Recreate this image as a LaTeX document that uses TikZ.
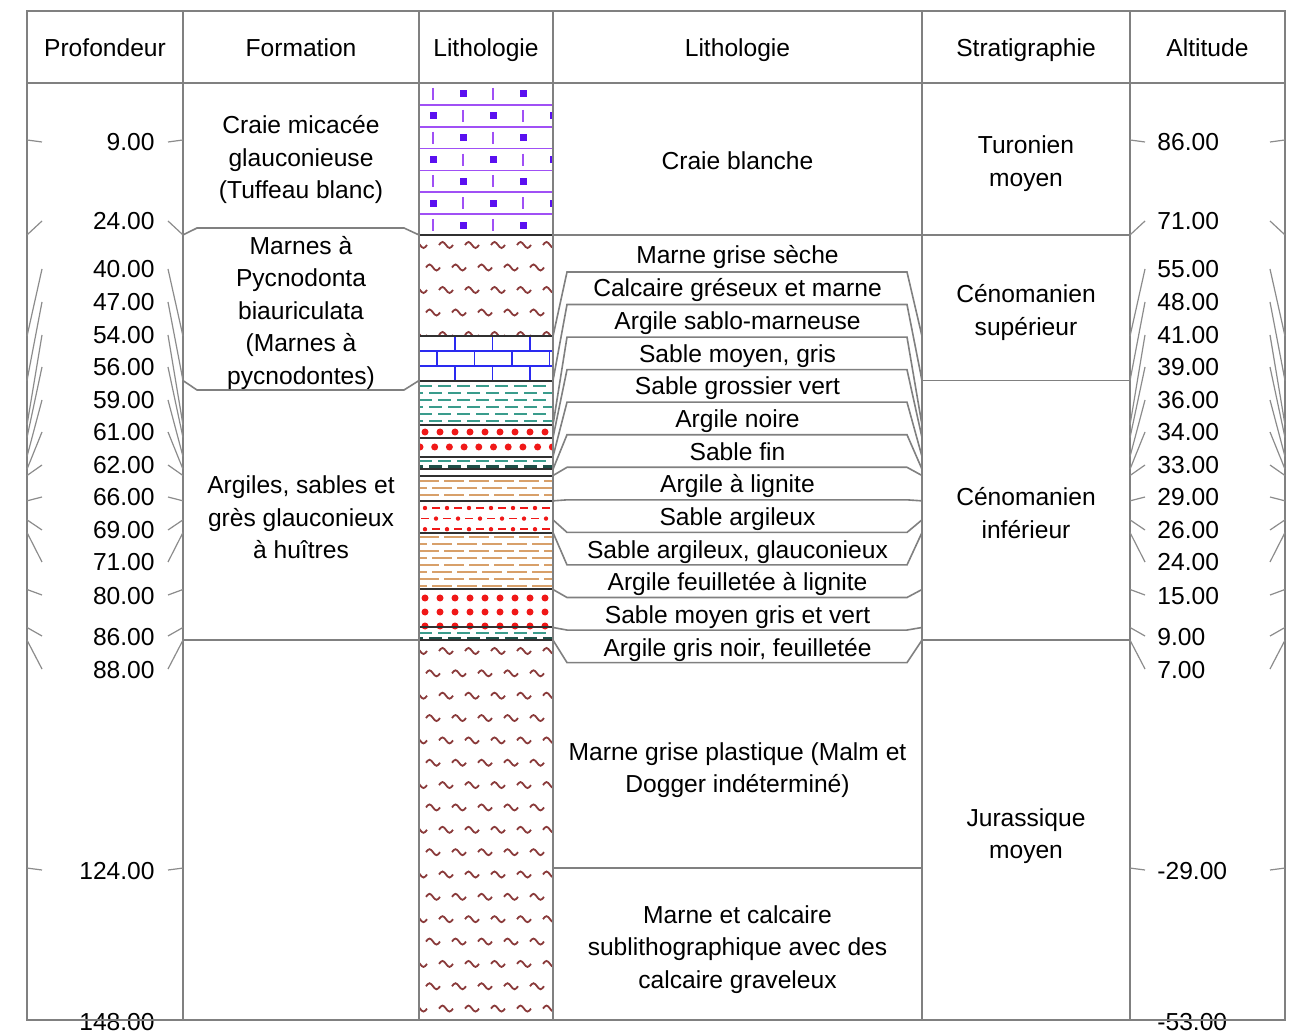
\documentclass[tikz,border=0pt]{standalone}
\usepackage{fontspec}
\setmainfont{Liberation Sans}
\definecolor{rulegray}{HTML}{808080}
\definecolor{leadgray}{HTML}{8C8C8C}
\definecolor{chalkln}{HTML}{A050F5}
\definecolor{chalksq}{HTML}{5A10F0}
\definecolor{marlsq}{HTML}{8A3A3A}
\definecolor{brickblue}{HTML}{2A2AF0}
\definecolor{clayteal}{HTML}{3A9C8C}
\definecolor{claydark}{HTML}{1E5048}
\definecolor{sandred}{HTML}{F01818}
\definecolor{lignitetan}{HTML}{D8A06A}
\definecolor{bedline}{HTML}{303030}

% one marl squiggle centred on (#1,#2)
\newcommand\squig[2]{\draw[squigline] ({#1-7},#2) sin ({#1-3.5},{#2-3}) cos (#1,#2) sin ({#1+3.5},{#2+3}) cos ({#1+7},#2);}
% staggered rows of squiggles: first row y, last row index, row spacing
\newcommand\marlrows[3]{%
  \foreach \mr in {0,...,#2}{%
    \pgfmathsetmacro\mY{#1+#3*\mr}%
    \pgfmathsetmacro\mS{mod(\mr,2)*13}%
    \foreach \mj in {0,...,5}{%
      \pgfmathsetmacro\mX{420+\mS+26*\mj}%
      \squig{\mX}{\mY}%
    }}}

\begin{document}
\begin{tikzpicture}[x=0.5pt,y=-0.5pt,
  declare function={Y(\d)=83+\d*6.33108;},
  lbl/.style={font=\fontsize{12.3}{15}\selectfont,inner sep=0pt,anchor=base},
  frame/.style={draw=rulegray,line width=0.8pt},
  leader/.style={draw=leadgray,line width=0.6pt},
  bed/.style={draw=bedline,line width=1pt},
  squigline/.style={draw=marlsq,line width=0.9pt},
  tealrow/.style={draw=clayteal,line width=1pt,dash pattern=on 6.5pt off 3pt},
  darkrow/.style={draw=claydark,line width=1.2pt,dash pattern=on 6.5pt off 3pt},
  tanrow/.style={draw=lignitetan,line width=1pt,dash pattern=on 10pt off 2.5pt},
]
\useasboundingbox (0,0) rectangle (1290,1031);
\fill[white] (0,0) rectangle (1290,1031);

% ---------------- lithological column ----------------
\begin{scope}
\clip (419,83) rectangle (553,{Y(148)});
% chalk
\begin{scope}
 \clip (419,83) rectangle (553,{Y(24)});
 \foreach \k in {0,...,6}{
   \pgfmathsetmacro\cY{83+(\k+0.5)*21.86}
   \pgfmathsetmacro\cL{83+\k*21.86}
   \pgfmathsetmacro\cS{mod(\k,2)*30}
   \draw[chalkln,line width=0.8pt] (419,\cL) -- (553,\cL);
   \foreach \j in {0,1}{
     \pgfmathsetmacro\cT{433+\cS+60*\j}
     \draw[chalkln,line width=0.8pt] (\cT,{\cY-6}) -- (\cT,{\cY+6});
   }
   \foreach \j in {0,1,2}{
     \pgfmathsetmacro\cQ{463-\cS+60*\j}
     \fill[chalksq] ({\cQ-3.5},{\cY-3.5}) rectangle ++(7,7);
   }
 }
\end{scope}
% marl 24-40
\begin{scope}
 \clip (419,{Y(24)}) rectangle (553,{Y(40)});
 \marlrows{245}{4}{22.5}
\end{scope}
% sandy limestone 40-47
\begin{scope}
 \clip (419,{Y(40)}) rectangle (553,{Y(47)});
 \pgfmathsetmacro\bh{(Y(47)-Y(40))/3}
 \foreach \k in {1,2} \draw[brickblue,line width=0.9pt] (419,{Y(40)+\k*\bh}) -- (553,{Y(40)+\k*\bh});
 \foreach \k in {0,1,2}{
   \pgfmathsetmacro\bo{455-mod(\k,2)*18}
   \foreach \j in {0,...,3}
     \draw[brickblue,line width=0.9pt] ({\bo+37.5*\j},{Y(40)+\k*\bh}) -- ({\bo+37.5*\j},{Y(40)+(\k+1)*\bh});
 }
\end{scope}
% sandy marly clay 47-54
\foreach \yy/\ph in {386/0pt,393/4.5pt,400/0pt,407/4.5pt,414/0pt,421/4.5pt}
  \draw[tealrow,dash phase=\ph] (419,\yy) -- (553,\yy);
% medium sand 54-56
\foreach \j in {0,...,8} \fill[sandred] ({425+15*\j},432) circle (1.75pt);
% coarse sand 56-59
\foreach \j in {0,...,9} \fill[sandred] ({420+14.7*\j},447) circle (1.75pt);
% black clay 59-61
\draw[tealrow] (419,461) -- (553,461);
\draw[darkrow,dash phase=4.5pt] (419,466.5) -- (553,466.5);
% lignite clay 62-66
\foreach \yy/\ph in {481/0pt,488/6pt,495/0pt}
  \draw[tanrow,dash phase=\ph] (419,\yy) -- (553,\yy);
% clayey sand 66-71
\foreach \r in {0,1,2}{
  \pgfmathsetmacro\ry{508+10.6*\r}
  \pgfmathsetmacro\rs{mod(\r,2)*11}
  \foreach \j in {-1,...,6}{
    \pgfmathsetmacro\rx{425+\rs+22*\j}
    \fill[sandred] (\rx,\ry) circle (1.1pt);
    \draw[sandred,line width=0.9pt] ({\rx+7},\ry) -- ({\rx+15},\ry);
  }}
% laminated lignite clay 71-80
\foreach \yy/\ph in {537/0pt,544/6pt,551/0pt,558/6pt,565/0pt,572/6pt,579/0pt,586/6pt}
  \draw[tanrow,dash phase=\ph] (419,\yy) -- (553,\yy);
% grey-green sand 80-86
\foreach \yy in {598,612,626}
  \foreach \j in {0,...,8} \fill[sandred] ({425+15*\j},\yy) circle (1.75pt);
% grey-black clay 86-88
\draw[tealrow] (419,633) -- (553,633);
\draw[darkrow,dash phase=4.5pt] (419,638) -- (553,638);
% plastic marl 88-148
\begin{scope}
 \clip (419,{Y(88)}) rectangle (553,{Y(148)});
 \marlrows{651}{16}{22.35}
\end{scope}
% bed boundaries
\foreach \d in {24,40,47,54,56,59,61,62,66,71,80,86,88}
  \draw[bed] (419,{Y(\d)}) -- (553,{Y(\d)});
\end{scope}

% ---------------- table frame ----------------
\draw[frame] (27,11) rectangle (1285,{Y(148)});
\draw[frame] (27,83) -- (1285,83);
\foreach \x in {183,419,553,922,1130}
  \draw[frame] (\x,11) -- (\x,{Y(148)});

% headers
\node[lbl] (hProf) at (105,57) {Profondeur};
\node[lbl] (hForm) at (301,57) {Formation};
\node[lbl] (hLith) at (486,57) {Lithologie};
\node[lbl] (hDesc) at (737.5,57) {Lithologie};
\node[lbl] (hStrat) at (1026,57) {Stratigraphie};
\node[lbl] (hAlt) at (1207.5,57) {Altitude};

% depth and altitude scales
\foreach \d/\b/\dt/\at in {9/151/9.00/86.00, 24/230/24.00/71.00, 40/278/40.00/55.00,
    47/311/47.00/48.00, 54/344/54.00/41.00, 56/376/56.00/39.00, 59/409/59.00/36.00,
    61/441/61.00/34.00, 62/474/62.00/33.00, 66/506/66.00/29.00, 69/539/69.00/26.00,
    71/571/71.00/24.00, 80/604/80.00/15.00, 86/645/86.00/9.00, 88/678/88.00/7.00,
    124/879/124.00/-29.00}{
  \node[lbl,anchor=base east] (dep\d) at (155,\b) {\dt};
  \node[lbl,anchor=base west] (alt\d) at (1157,\b) {\at};
  \draw[leader] (27,{Y(\d)}) -- (42,{\b-9});
  \draw[leader] (168,{\b-9}) -- (183,{Y(\d)});
  \draw[leader] (1130,{Y(\d)}) -- (1145,{\b-9});
  \draw[leader] (1270,{\b-9}) -- (1285,{Y(\d)});
}
\node[lbl,anchor=base east] (dep148) at (155,1030) {148.00};
\node[lbl,anchor=base west] (alt148) at (1157,1030) {-53.00};
\draw[frame] (27,{Y(148)}) -- (1285,{Y(148)});

% formations
\draw[frame] (183,{Y(24)}) -- (197,228) -- (404,228) -- (419,{Y(24)});
\draw[frame] (183,{Y(47)}) -- (197,390) -- (404,390) -- (419,{Y(47)});
\draw[frame] (183,{Y(88)}) -- (419,{Y(88)});
\node[lbl] (f1a) at (301,134) {Craie micacée};
\node[lbl] (f1b) at (301,166.5) {glauconieuse};
\node[lbl] (f1c) at (301,199) {(Tuffeau blanc)};
\node[lbl] (f2a) at (301,254.5) {Marnes à};
\node[lbl] (f2b) at (301,287) {Pycnodonta};
\node[lbl] (f2c) at (301,319.5) {biauriculata};
\node[lbl] (f2d) at (301,352) {(Marnes à};
\node[lbl] (f2e) at (301,384.5) {pycnodontes)};
\node[lbl] (f3a) at (301,494) {Argiles, sables et};
\node[lbl] (f3b) at (301,526.5) {grès glauconieux};
\node[lbl] (f3c) at (301,559) {à huîtres};

% lithological descriptions
\draw[frame] (553,{Y(24)}) -- (1130,{Y(24)});
\draw[frame] (553,{Y(124)}) -- (922,{Y(124)});
\foreach \d [count=\i from 0] in {40,47,54,56,59,61,62,66,69,71,80,86,88}{
  \pgfmathsetmacro\ry{272+32.55*\i}
  \draw[frame] (553,{Y(\d)}) -- (567,\ry) -- (907,\ry) -- (922,{Y(\d)});
}
\node[lbl] (l0) at (737.5,170) {Craie blanche};
\foreach \t [count=\i from 0] in {Marne grise sèche, Calcaire gréseux et marne,
    Argile sablo-marneuse, {Sable moyen, gris}, Sable grossier vert, Argile noire,
    Sable fin, Argile à lignite, Sable argileux, {Sable argileux, glauconieux},
    Argile feuilletée à lignite, Sable moyen gris et vert, {Argile gris noir, feuilletée}}
  \node[lbl] (row\i) at (737.5,{264+32.67*\i}) {\t};
\node[lbl] (l14a) at (737.5,760) {Marne grise plastique (Malm et};
\node[lbl] (l14b) at (737.5,792.5) {Dogger indéterminé)};
\node[lbl] (l15a) at (737.5,923) {Marne et calcaire};
\node[lbl] (l15b) at (737.5,955.5) {sublithographique avec des};
\node[lbl] (l15c) at (737.5,988) {calcaire graveleux};

% stratigraphy
\draw[frame] (922,{Y(47)}) -- (1130,{Y(47)});
\draw[frame] (922,{Y(88)}) -- (1130,{Y(88)});
\node[lbl] (s1a) at (1026,154) {Turonien};
\node[lbl] (s1b) at (1026,186.5) {moyen};
\node[lbl] (s2a) at (1026,303) {Cénomanien};
\node[lbl] (s2b) at (1026,335.5) {supérieur};
\node[lbl] (s3a) at (1026,506) {Cénomanien};
\node[lbl] (s3b) at (1026,538.5) {inférieur};
\node[lbl] (s4a) at (1026,826) {Jurassique};
\node[lbl] (s4b) at (1026,858.5) {moyen};
\end{tikzpicture}
\end{document}
